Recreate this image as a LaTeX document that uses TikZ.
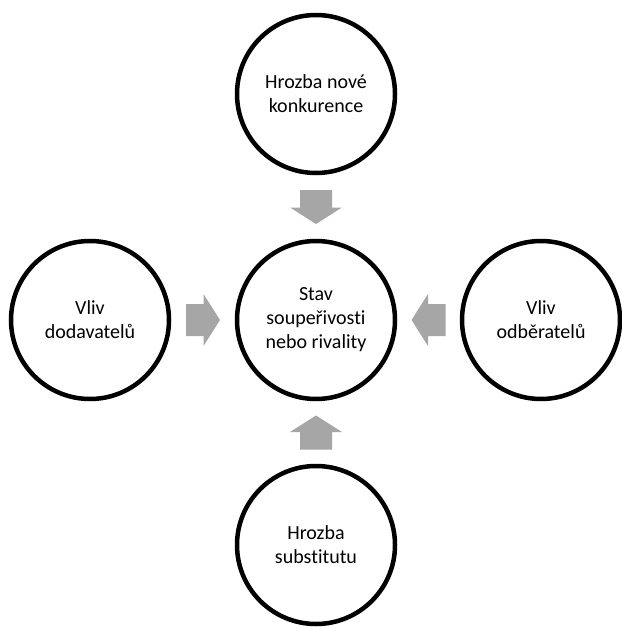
\documentclass[tikz,border=0pt]{standalone}
\usepackage{fontspec}
\setmainfont[Ligatures={NoCommon}]{Carlito}
\usetikzlibrary{calc}
\definecolor{arrgray}{HTML}{A6A6A6}
\tikzset{
  force/.style={circle, draw=black, line width=4.5bp, fill=white, minimum size=158bp,
    inner sep=0pt, align=center, font=\fontsize{20bp}{24bp}\selectfont, text=black},
  blockarrow/.pic={\fill[arrgray] (-17,-16) -- (0.5,-16) -- (0.5,-26) -- (17,0) -- (0.5,26) -- (0.5,16) -- (-17,16) -- cycle;}
}
\begin{document}
\begin{tikzpicture}[x=1bp,y=-1bp]
\useasboundingbox (0,0) rectangle (622,627);
\node[force] (top) at (316,94) {Hrozba nové\\konkurence};
\node[force] (center) at (316,320) {Stav\\soupeřivosti\\nebo rivality};
\node[force] (left) at (90,320) {Vliv\\dodavatelů};
\node[force] (right) at (541,320) {Vliv\\odběratelů};
\node[force] (bottom) at (316,545) {Hrozba\\substitutu};
\coordinate (atop) at ($(top.south)!0.5!(center.north)$);
\coordinate (abot) at ($(bottom.north)!0.5!(center.south)$);
\coordinate (aleft) at ($(left.east)!0.5!(center.west)$);
\coordinate (aright) at ($(right.west)!0.5!(center.east)$);
\pic[rotate=-90] at (atop) {blockarrow};
\pic[rotate=90] at (abot) {blockarrow};
\pic at (aleft) {blockarrow};
\pic[rotate=180] at (aright) {blockarrow};
\end{tikzpicture}
\end{document}
